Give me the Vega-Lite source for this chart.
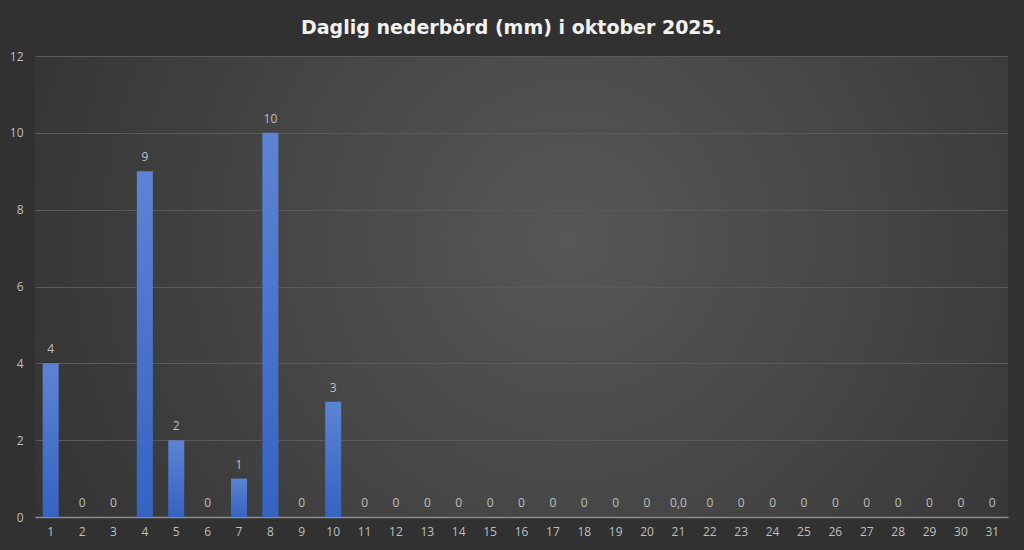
{
  "$schema": "https://vega.github.io/schema/vega-lite/v6.json",
  "autosize": "none",
  "width": 973,
  "height": 461,
  "padding": {"left": 35, "top": 56, "right": 16, "bottom": 33},
  "background": "#313131",
  "title": {
    "text": "Daglig nederbörd (mm) i oktober 2025.",
    "font": "DejaVu Sans",
    "fontSize": 19,
    "fontWeight": "bold",
    "color": "#f2f2f2",
    "anchor": "middle",
    "frame": "group",
    "offset": 12,
    "dx": -10
  },
  "config": {
    "view": {
      "stroke": null,
      "fill": {
        "gradient": "radial",
        "x1": 0.55, "y1": 0.45, "r1": 0,
        "x2": 0.55, "y2": 0.45, "r2": 0.75,
        "stops": [
          {"offset": 0, "color": "#575757"},
          {"offset": 1, "color": "#2c2c2c"}
        ]
      }
    },
    "axis": {
      "labelFont": "Open Sans",
      "labelFontSize": 12,
      "labelColor": "#bfbfbf",
      "ticks": false,
      "title": null
    }
  },
  "data": {
    "values": [
      {"dag": 1, "mm": 4, "etikett": "4"},
      {"dag": 2, "mm": 0, "etikett": "0"},
      {"dag": 3, "mm": 0, "etikett": "0"},
      {"dag": 4, "mm": 9, "etikett": "9"},
      {"dag": 5, "mm": 2, "etikett": "2"},
      {"dag": 6, "mm": 0, "etikett": "0"},
      {"dag": 7, "mm": 1, "etikett": "1"},
      {"dag": 8, "mm": 10, "etikett": "10"},
      {"dag": 9, "mm": 0, "etikett": "0"},
      {"dag": 10, "mm": 3, "etikett": "3"},
      {"dag": 11, "mm": 0, "etikett": "0"},
      {"dag": 12, "mm": 0, "etikett": "0"},
      {"dag": 13, "mm": 0, "etikett": "0"},
      {"dag": 14, "mm": 0, "etikett": "0"},
      {"dag": 15, "mm": 0, "etikett": "0"},
      {"dag": 16, "mm": 0, "etikett": "0"},
      {"dag": 17, "mm": 0, "etikett": "0"},
      {"dag": 18, "mm": 0, "etikett": "0"},
      {"dag": 19, "mm": 0, "etikett": "0"},
      {"dag": 20, "mm": 0, "etikett": "0"},
      {"dag": 21, "mm": 0, "etikett": "0,0"},
      {"dag": 22, "mm": 0, "etikett": "0"},
      {"dag": 23, "mm": 0, "etikett": "0"},
      {"dag": 24, "mm": 0, "etikett": "0"},
      {"dag": 25, "mm": 0, "etikett": "0"},
      {"dag": 26, "mm": 0, "etikett": "0"},
      {"dag": 27, "mm": 0, "etikett": "0"},
      {"dag": 28, "mm": 0, "etikett": "0"},
      {"dag": 29, "mm": 0, "etikett": "0"},
      {"dag": 30, "mm": 0, "etikett": "0"},
      {"dag": 31, "mm": 0, "etikett": "0"}
    ]
  },
  "encoding": {
    "x": {
      "field": "dag",
      "type": "ordinal",
      "sort": null,
      "scale": {"paddingInner": 0.49, "paddingOuter": 0.245},
      "axis": {
        "labelAngle": 0,
        "labelPadding": 9,
        "domain": true,
        "domainColor": "#8c8c8c",
        "domainWidth": 1.5,
        "grid": false
      }
    },
    "y": {
      "field": "mm",
      "type": "quantitative",
      "scale": {"domain": [0, 12], "nice": false},
      "axis": {
        "values": [0, 2, 4, 6, 8, 10, 12],
        "domain": false,
        "grid": true,
        "gridColor": "#5a5a5a",
        "gridWidth": 1,
        "labelPadding": 12
      }
    }
  },
  "layer": [
    {
      "mark": {
        "type": "bar",
        "fill": {
          "gradient": "linear",
          "x1": 0, "y1": 0, "x2": 0, "y2": 1,
          "stops": [
            {"offset": 0, "color": "#5d83d4"},
            {"offset": 1, "color": "#3563c2"}
          ]
        }
      }
    },
    {
      "mark": {
        "type": "text",
        "baseline": "bottom",
        "dy": -7,
        "font": "Open Sans",
        "fontSize": 12,
        "color": "#bfbfbf"
      },
      "encoding": {
        "text": {"field": "etikett"}
      }
    }
  ]
}
